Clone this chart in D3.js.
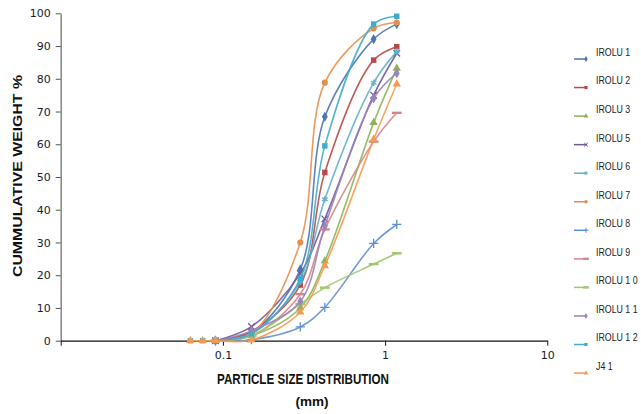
<!DOCTYPE html>
<html>
<head>
<meta charset="utf-8">
<script src="https://cdn.jsdelivr.net/npm/d3@7"></script>
<style>
  body { margin: 0; background: #fff; }
  svg { display: block; }
  .tick text { font-family: "DejaVu Sans", sans-serif; font-size: 11px; fill: #1a1a2a; }
</style>
</head>
<body>
<div id="box"></div>
<script>
'use strict';

// sieve sizes (mm)
var sizes = [0.063, 0.075, 0.09, 0.15, 0.3, 0.425, 0.85, 1.18];

// cumulative weight % per sample (null = not plotted)
var irolu1  = [null, null, 0, 2.5, 21.8, 68.4, 92.1, 96.7];
var irolu2  = [null, null, 0, 2.8, 17.0, 51.4, 85.7, 89.8];
var irolu3  = [null, null, 0, 1.5, 10.0, 24.3, 66.6, 83.2];
var irolu5  = [null, null, 0, 4.3, 20.5, 37.2, 75.0, 87.8];
var irolu6  = [null, null, 0, 2.2, 18.0, 43.2, 78.8, 88.3];
var irolu7  = [null, null, 0, 2.0, 30.0, 78.8, 95.4, 97.2];
var irolu8  = [null, null, 0, 0.3, 4.2, 10.2, 29.7, 35.5];
var irolu9  = [null, null, 0, 1.5, 14.2, 34.0, 60.8, 69.6];
var irolu10 = [null, null, 0, 1.5, 11.2, 16.2, 23.4, 26.7];
var irolu11 = [null, null, 0, 3.0, 12.0, 35.0, 74.0, 81.7];
var irolu12 = [0, 0, 0, 2.0, 19.0, 59.5, 96.7, 99.1];
var j41     = [0, 0, 0, 0.2, 8.7, 22.9, 61.5, 78.4];

var seriesNames = ["IROLU 1", "IROLU 2", "IROLU 3", "IROLU 5", "IROLU 6", "IROLU 7",
                   "IROLU 8", "IROLU 9", "IROLU 1 0", "IROLU 1 1", "IROLU 1 2", "J4 1"];
var seriesValues = [irolu1, irolu2, irolu3, irolu5, irolu6, irolu7,
                    irolu8, irolu9, irolu10, irolu11, irolu12, j41];

var yTicks = [0, 10, 20, 30, 40, 50, 60, 70, 80, 90, 100];
var xTicks = [0.01, 0.1, 1, 10];
var xTickLabels = ["", "0.1", "1", "10"];

var colors = ["#4a76b2", "#b94a48", "#8db256", "#6f5a9a", "#5fb0c9", "#e58f4e",
              "#5f8fd2", "#d48886", "#9fc86c", "#9a84be", "#42abc9", "#f59a52"];
var markers = ["diamond", "square", "triangle", "times", "asterisk", "circle",
               "plus", "dash", "dash", "diamond", "square", "triangle"];

var width = 641, height = 414;
var svg = d3.select("#box").append("svg")
    .attr("width", width)
    .attr("height", height);

var x = d3.scaleLog().domain([0.01, 10]).range([60.7, 547.3]);
var y = d3.scaleLinear().domain([0, 100]).range([340.7, 13.3]);

// Y axis
var yAxis = svg.append("g")
    .attr("transform", "translate(" + x(0.01) + ",0)")
    .call(d3.axisLeft(y).tickValues(yTicks).tickSize(5).tickSizeOuter(0).tickPadding(5));
yAxis.select(".domain").attr("stroke", "#858585").attr("stroke-width", 1.5);
yAxis.selectAll(".tick line").attr("stroke", "#555");

// X axis
var xAxis = svg.append("g")
    .attr("transform", "translate(0," + y(0) + ")")
    .call(d3.axisBottom(x).tickValues(xTicks)
      .tickFormat(function(d, i) { return xTickLabels[i]; })
      .tickSize(5).tickSizeOuter(0).tickPadding(6));
xAxis.select(".domain").attr("stroke", "#111").attr("stroke-width", 1.3);
xAxis.selectAll(".tick line").attr("stroke", "#111");

// axis titles
svg.append("text")
    .attr("transform", "translate(18," + 176 + ") rotate(-90)")
    .attr("text-anchor", "middle")
    .attr("dominant-baseline", "central")
    .style("font-family", "'Liberation Sans', Arial, sans-serif")
    .style("font-weight", "bold")
    .style("font-size", "12.5px")
    .attr("fill", "#111")
    .attr("textLength", 202)
    .attr("lengthAdjust", "spacingAndGlyphs")
    .text("CUMMULATIVE WEIGHT  %");

svg.append("text")
    .attr("x", 303).attr("y", 384)
    .attr("text-anchor", "middle")
    .style("font-family", "'Liberation Sans', Arial, sans-serif")
    .style("font-weight", "bold")
    .style("font-size", "14px")
    .attr("fill", "#111")
    .attr("textLength", 172)
    .attr("lengthAdjust", "spacingAndGlyphs")
    .text("PARTICLE SIZE DISTRIBUTION");

svg.append("text")
    .attr("x", 312).attr("y", 406)
    .attr("text-anchor", "middle")
    .style("font-family", "'Liberation Sans', Arial, sans-serif")
    .style("font-weight", "bold")
    .style("font-size", "13.5px")
    .attr("fill", "#111")
    .text("(mm)");

function symbolPath(kind, size) {
  if (kind === "dash") {
    var w = Math.sqrt(size) * 0.9;
    return "M" + (-w) + ",-1.2h" + (2 * w) + "v2.4h" + (-2 * w) + "z";
  }
  var t = { diamond: d3.symbolDiamond, square: d3.symbolSquare, triangle: d3.symbolTriangle,
            times: d3.symbolTimes, asterisk: d3.symbolAsterisk, circle: d3.symbolCircle,
            plus: d3.symbolPlus }[kind];
  return d3.symbol().type(t).size(size)();
}
function isStroked(kind) { return kind === "times" || kind === "asterisk" || kind === "plus"; }

var line = d3.line()
    .defined(function(d) { return d.v !== null; })
    .x(function(d) { return x(d.s); })
    .y(function(d) { return y(d.v); })
    .curve(d3.curveCatmullRom.alpha(0.5));

seriesValues.forEach(function(vals, i) {
  var pts = vals.map(function(v, j) { return { s: sizes[j], v: v }; })
                .filter(function(d) { return d.v !== null; });
  svg.append("path")
    .datum(pts)
    .attr("fill", "none")
    .attr("stroke", colors[i])
    .attr("stroke-width", 1.6)
    .attr("stroke-opacity", 0.9)
    .attr("d", line);
  svg.selectAll(".m" + i)
    .data(pts)
    .enter().append("path")
    .attr("transform", function(d) { return "translate(" + x(d.s) + "," + y(d.v) + ")"; })
    .attr("d", symbolPath(markers[i], 30))
    .attr("fill", isStroked(markers[i]) ? "none" : colors[i])
    .attr("stroke", isStroked(markers[i]) ? colors[i] : "none")
    .attr("stroke-width", 1.3);
});

// legend
var legend = svg.append("g");
seriesNames.forEach(function(name, i) {
  var ly = 59 + i * 28.55;
  legend.append("line")
    .attr("x1", 574).attr("x2", 587)
    .attr("y1", ly).attr("y2", ly)
    .attr("stroke", colors[i]).attr("stroke-width", 1.5);
  legend.append("path")
    .attr("transform", "translate(586," + ly + ")")
    .attr("d", symbolPath(markers[i], 10))
    .attr("fill", isStroked(markers[i]) ? "none" : colors[i])
    .attr("stroke", isStroked(markers[i]) ? colors[i] : "none")
    .attr("stroke-width", 1);
  // narrow look of the original legend via horizontal squeeze
  legend.append("text")
    .attr("transform", "translate(596," + (ly - 7) + ") scale(0.8,1)")
    .attr("dominant-baseline", "central")
    .style("font-family", "'Liberation Sans', Arial, sans-serif")
    .style("font-size", "11px")
    .attr("fill", "#222")
    .text(name);
});
</script>
</body>
</html>
